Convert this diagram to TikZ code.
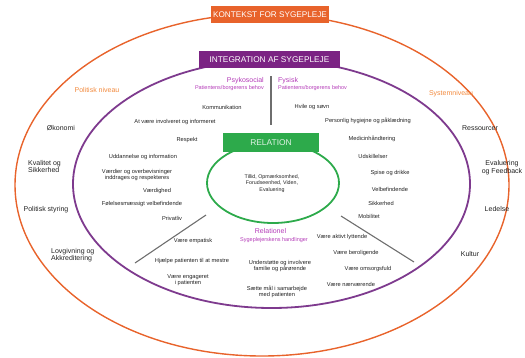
\documentclass[tikz,border=0pt]{standalone}
\usepackage{fontspec}
\setmainfont{Liberation Sans}
\definecolor{korange}{HTML}{E8632B}
\definecolor{lorange}{HTML}{F28A3E}
\definecolor{kpurple}{HTML}{7B2383}
\definecolor{lpurple}{HTML}{7E3A8E}
\definecolor{kpink}{HTML}{B43CB8}
\definecolor{kgreen}{HTML}{2DAA4B}
\definecolor{kgray}{HTML}{6E6E6E}
\definecolor{ktext}{HTML}{222222}
\tikzset{
  item/.style={font=\fontsize{5.7}{6.4}\selectfont, align=center, inner sep=0pt, text=ktext},
  outer/.style={font=\fontsize{7}{7.6}\selectfont, inner sep=0pt, text=ktext},
  level/.style={font=\fontsize{7}{8}\selectfont, inner sep=0pt, text=lorange},
  dimtitle/.style={font=\fontsize{7}{8}\selectfont, inner sep=0pt, text=kpink},
  dimsub/.style={font=\fontsize{5.5}{6}\selectfont, inner sep=0pt, text=kpink},
  titlebox/.style={inner sep=0pt, text=white, minimum height=17pt},
  divider/.style={draw=kgray, line width=1.1pt}
}
\begin{document}
\begin{tikzpicture}[x=1pt,y=-1pt]
\useasboundingbox (0,0) rectangle (525,357);
% ellipses
\draw[korange, line width=1.4pt] (262,185) ellipse [x radius=247pt, y radius=171pt];
\draw[lpurple, line width=1.8pt] (271.5,184) ellipse [x radius=198.5pt, y radius=124pt];
\draw[kgreen, line width=1.8pt] (273,183) ellipse [x radius=66pt, y radius=40pt];
% title boxes
\node[titlebox, fill=korange, minimum width=118pt, font=\fontsize{8.2}{9}\selectfont] (kontekst) at (270,14.5) {KONTEKST FOR SYGEPLEJE};
\node[titlebox, fill=kpurple, minimum width=141pt, font=\fontsize{8.3}{9}\selectfont] (integ) at (269.5,59.5) {INTEGRATION AF SYGEPLEJE};
\node[titlebox, fill=kgreen, minimum width=96pt, minimum height=19pt, text=white!85!kgreen, font=\fontsize{8.4}{9}\selectfont] (relation) at (271,142.5) {RELATION};
\node[item, font=\fontsize{5.3}{6.3}\selectfont] (relcore) at (272,183.5) {Tillid, Opmærksomhed,\\Forudseenhed, Viden,\\Evaluering};
% dividers
\coordinate (vtop) at (271,76);
\coordinate (vbot) at (271,125);
\draw[divider] (vtop) -- (vbot);
\coordinate (dla) at (206,215);
\coordinate (dlb) at (135,263);
\draw[divider] (dla) -- (dlb);
\coordinate (dra) at (341,216);
\coordinate (drb) at (414,262);
\draw[divider] (dra) -- (drb);
% dimension titles
\node[dimtitle, anchor=east] (psyk) at (264,81) {Psykosocial};
\node[dimsub, anchor=east] (psyksub) at (264,88) {Patientens/borgerens behov};
\node[dimtitle, anchor=west] (fys) at (278,81) {Fysisk};
\node[dimsub, anchor=west] (fyssub) at (278,88) {Patientens/borgerens behov};
\node[dimtitle] (relnl) at (270.5,231) {Relationel};
\node[dimsub] (relsub) at (274,240) {Sygeplejerskens handlinger};
% psykosocial items
\node[item] (p1) at (222,107) {Kommunikation};
\node[item] (p2) at (175,122) {At være involveret og informeret};
\node[item] (p3) at (187,140) {Respekt};
\node[item] (p4) at (143,157) {Uddannelse og information};
\node[item] (p5) at (137,175) {Værdier og overbevisninger\\inddrages og respekteres};
\node[item] (p6) at (157,191) {Værdighed};
\node[item] (p7) at (142,204) {Følelsesmæssigt velbefindende};
\node[item] (p8) at (172,218) {Privatliv};
% fysisk items
\node[item] (f1) at (312,107) {Hvile og søvn};
\node[item] (f2) at (368,121) {Personlig hygiejne og påklædning};
\node[item] (f3) at (372,139) {Medicinhåndtering};
\node[item] (f4) at (373,156) {Udskillelser};
\node[item] (f5) at (390,173) {Spise og drikke};
\node[item] (f6) at (390,189) {Velbefindende};
\node[item] (f7) at (381,203) {Sikkerhed};
\node[item] (f8) at (369,216) {Mobilitet};
% relationel items
\node[item] (r1) at (193,241) {Være empatisk};
\node[item] (r2) at (192,261) {Hjælpe patienten til at mestre};
\node[item] (r3) at (188,280) {Være engageret\\i patienten};
\node[item] (r4) at (280,266) {Understøtte og involvere\\familie og pårørende};
\node[item] (r5) at (277,292) {Sætte mål i samarbejde\\med patienten};
\node[item] (r6) at (342,237) {Være aktivt lyttende};
\node[item] (r7) at (356,253) {Være beroligende};
\node[item] (r8) at (368,269) {Være omsorgsfuld};
\node[item] (r9) at (351,284) {Være nærværende};
% levels
\node[level] (polniv) at (97,90) {Politisk niveau};
\node[level] (sysniv) at (451,94) {Systemniveau};
% outer left
\node[outer] (o1) at (61,128) {Økonomi};
\node[outer, align=left, anchor=west] (o2) at (28,166.5) {Kvalitet og\\Sikkerhed};
\node[outer] (o3) at (46,210) {Politisk styring};
\node[outer, align=left, anchor=west] (o4) at (51,255) {Lovgivning og\\Akkreditering};
% outer right
\node[outer] (o5) at (480,128) {Ressourcer};
\node[outer, align=center] (o6) at (502,167.5) {Evaluering\\og Feedback};
\node[outer] (o7) at (497,209) {Ledelse};
\node[outer] (o8) at (470,254) {Kultur};
\end{tikzpicture}
\end{document}
